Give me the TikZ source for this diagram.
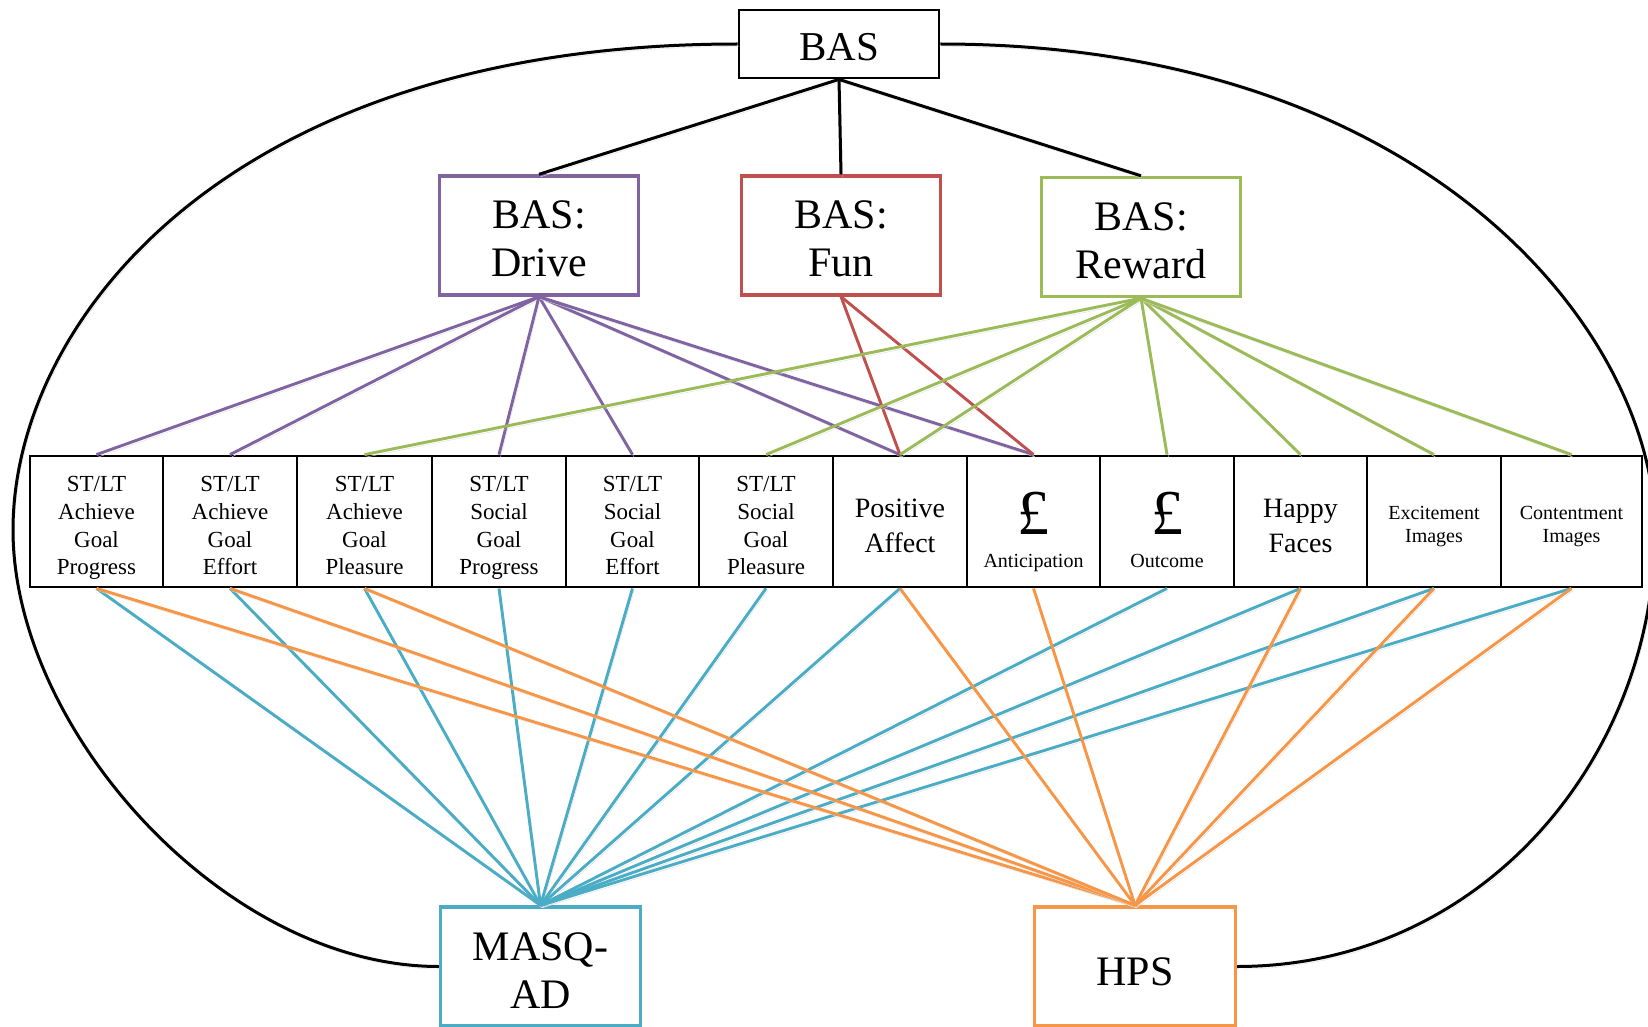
\documentclass[tikz,border=0pt]{standalone}
\usepackage{fontspec}
\setmainfont{Liberation Serif}
\definecolor{cpurple}{HTML}{8064A2}
\definecolor{cred}{HTML}{C0504D}
\definecolor{cgreen}{HTML}{9BBB59}
\definecolor{cblue}{HTML}{4BACC6}
\definecolor{corange}{HTML}{F79646}
\newcommand{\myrl}[1]{\rule{0pt}{#1pt}}
\begin{document}
\begin{tikzpicture}[x=1pt,y=-1pt,
  shad/.style={preaction={draw=black!13, transform canvas={shift={(1.5pt,-2.5pt)}}}},
  cell/.style={draw=black, line width=2.8pt, minimum width=#1, minimum height=131pt,
    inner sep=0pt, align=center, font=\fontsize{23}{27.7}\selectfont},
  cell/.default=134pt,
  big/.style={line width=3.4pt, minimum width=199pt, minimum height=119pt, inner sep=0pt,
    align=center, font=\fontsize{42}{48}\selectfont},
  conn/.style={line width=2.9pt, shad},
  blk/.style={line width=3pt, black, shad}
]
\fill[white] (0,0) rectangle (1648,1027);
\useasboundingbox (0,0) rectangle (1648,1027);

% top nodes
\node[draw=black, line width=2.8pt, minimum width=200pt, minimum height=68pt, inner sep=0pt,
  font=\fontsize{41}{48}\selectfont] (bas) at (839,44) {\myrl{34}BAS};
\node[big, draw=cpurple] (drive) at (539,235.5) {\myrl{35}BAS:\\Drive};
\node[big, draw=cred] (fun) at (841,235.5) {\myrl{35}BAS:\\Fun};
\node[big, draw=cgreen] (reward) at (1141,237) {\myrl{35}BAS:\\Reward};

% bottom nodes
\node[big, draw=cblue, minimum width=200pt] (masq) at (540.5,966.5) {\myrl{36}MASQ-\\AD};
\node[big, draw=corange, minimum width=201pt] (hps) at (1135,966.5) {\myrl{38}HPS};

% row of cells
\node[cell=133pt] (b1) at (96.5,521.5) {\myrl{32}ST/LT\\Achieve\\Goal\\Progress\strut};
\node[cell=134pt] (b2) at (230,521.5) {\myrl{32}ST/LT\\Achieve\\Goal\\Effort\strut};
\node[cell=135pt] (b3) at (364.5,521.5) {\myrl{32}ST/LT\\Achieve\\Goal\\Pleasure\strut};
\node[cell=134pt] (b4) at (499,521.5) {\myrl{32}ST/LT\\Social\\Goal\\Progress\strut};
\node[cell=133pt] (b5) at (632.5,521.5) {\myrl{32}ST/LT\\Social\\Goal\\Effort\strut};
\node[cell=134pt] (b6) at (766,521.5) {\myrl{32}ST/LT\\Social\\Goal\\Pleasure\strut};
\node[cell=134pt, font=\fontsize{28}{35}\selectfont] (b7) at (900,521.5) {\myrl{38}Positive\\Affect\strut};
\node[cell=133pt] (b8) at (1033.5,521.5) {};
\node[cell=134pt] (b9) at (1167,521.5) {};
\node[cell=133pt, font=\fontsize{28}{35}\selectfont] (b10) at (1300.5,521.5) {\myrl{38}Happy\\Faces\strut};
\node[cell=134pt, font=\fontsize{20}{23}\selectfont] (b11) at (1434,521.5) {\myrl{26}Excitement\\Images\strut};
\node[cell=141pt, font=\fontsize{20}{23}\selectfont] (b12) at (1571.5,521.5) {\myrl{26}Contentment\\Images\strut};

\node[font=\fontsize{64}{64}\selectfont, anchor=base, inner sep=0pt] (b8p) at (1033.5,534) {£};
\node[font=\fontsize{20}{24}\selectfont, anchor=base, inner sep=0pt] (b8t) at (1033.5,567) {Anticipation};
\node[font=\fontsize{64}{64}\selectfont, anchor=base, inner sep=0pt] (b9p) at (1167,534) {£};
\node[font=\fontsize{20}{24}\selectfont, anchor=base, inner sep=0pt] (b9t) at (1167,567) {Outcome};

% big enclosing curves
\coordinate (lx) at (13,530);
\coordinate (rx) at (1655,530);
\draw[line width=3pt, shad] (bas.west) .. controls (230,44) and (13,320) .. (lx)
  .. controls (13,730) and (225,966.5) .. (masq.west);
\draw[line width=3pt, shad] (bas.east) .. controls (1430,44) and (1655,335) .. (rx)
  .. controls (1655,760) and (1480,966.5) .. (hps.east);

% BAS to subscales
\draw[blk] (bas.south) -- (drive.north);
\draw[blk] (bas.south) -- (fun.north);
\draw[blk] (bas.south) -- (reward.north);

% subscales to measures
\foreach \t in {b1,b2,b4,b5,b7,b8} \draw[conn, cpurple] (drive.south) -- (\t.north);
\foreach \t in {b7,b8} \draw[conn, cred] (fun.south) -- (\t.north);
\foreach \t in {b3,b6,b7,b9,b10,b11,b12} \draw[conn, cgreen] (reward.south) -- (\t.north);

% measures to questionnaires
\foreach \t in {b1,b2,b3,b4,b5,b6,b7,b9,b10,b11,b12} \draw[conn, cblue] (\t.south) -- (masq.north);
\foreach \t in {b1,b2,b3,b7,b8,b10,b11,b12} \draw[conn, corange] (\t.south) -- (hps.north);
\end{tikzpicture}
\end{document}
